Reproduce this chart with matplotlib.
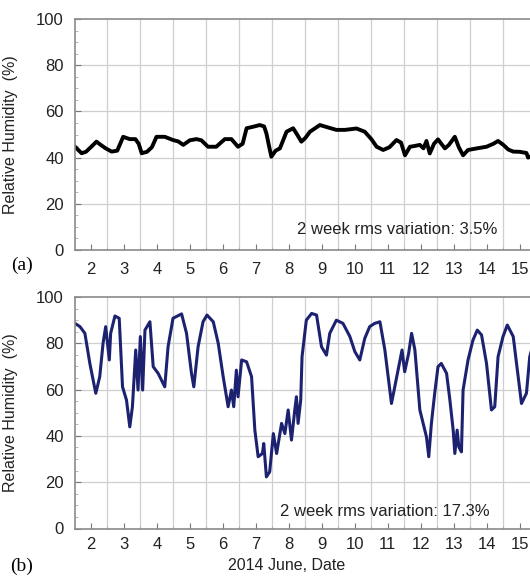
import numpy as np
import matplotlib
matplotlib.use("Agg")
import matplotlib.pyplot as plt
from matplotlib.ticker import MultipleLocator

plt.rcParams["font.family"] = ["Liberation Sans", "DejaVu Sans"]

# (a) relative humidity, first site (day of June 2014, %)
day_a = [1.52, 1.72, 1.85, 2.0, 2.17, 2.3, 2.45, 2.63, 2.8, 2.98, 3.18, 3.35,
         3.45, 3.54, 3.7, 3.85, 3.99, 4.24, 4.49, 4.65, 4.8, 5.0, 5.2, 5.35,
         5.55, 5.8, 6.06, 6.26, 6.46, 6.6, 6.72, 6.93, 7.12, 7.25, 7.32, 7.4,
         7.47, 7.6, 7.73, 7.93, 8.13, 8.25, 8.38, 8.5, 8.64, 8.94, 9.2, 9.44,
         9.7, 10.05, 10.3, 10.5, 10.66, 10.86, 11.05, 11.26, 11.4, 11.52,
         11.67, 11.8, 11.97, 12.08, 12.17, 12.27, 12.4, 12.52, 12.62, 12.73,
         12.85, 13.03, 13.15, 13.28, 13.43, 13.7, 13.99, 14.2, 14.34, 14.5,
         14.65, 14.8, 15.0, 15.2, 15.25, 15.4]
rh_a = [44.7, 41.9, 42.5, 44.5, 46.9, 45.5, 44.0, 42.6, 43.0, 49.0, 48.0, 48.0,
        46.0, 41.9, 42.5, 44.5, 49.0, 49.0, 47.6, 47.0, 45.5, 47.5, 48.0, 47.5,
        44.7, 44.7, 48.0, 48.0, 44.7, 46.0, 52.7, 53.4, 54.1, 53.5, 50.5, 45.0,
        40.4, 43.0, 44.0, 51.2, 52.7, 50.0, 46.9, 48.5, 51.2, 54.1, 53.0, 52.0,
        52.0, 52.6, 51.2, 48.0, 44.7, 43.3, 44.5, 47.6, 46.5, 41.0, 44.7, 45.0,
        45.5, 44.0, 47.2, 41.8, 46.0, 47.9, 46.0, 44.0, 45.5, 49.0, 44.5, 41.0,
        43.3, 44.0, 44.7, 46.0, 47.2, 45.5, 43.5, 42.6, 42.5, 42.0, 40.0, 41.0]

# (b) relative humidity, second site
day_b = [1.52, 1.67, 1.82, 1.97, 2.07, 2.15, 2.27, 2.37, 2.45, 2.56, 2.6, 2.73,
         2.86, 2.96, 3.08, 3.18, 3.26, 3.36, 3.43, 3.5, 3.57, 3.64, 3.79, 3.89,
         4.04, 4.24, 4.34, 4.49, 4.75, 4.9, 5.05, 5.12, 5.25, 5.4, 5.52, 5.71,
         5.86, 6.01, 6.16, 6.26, 6.33, 6.41, 6.46, 6.57, 6.72, 6.87, 6.97,
         7.07, 7.2, 7.24, 7.32, 7.42, 7.53, 7.63, 7.78, 7.88, 7.98, 8.08, 8.18,
         8.23, 8.28, 8.36, 8.4, 8.53, 8.69, 8.84, 8.99, 9.14, 9.24, 9.44, 9.64,
         9.85, 10.0, 10.15, 10.3, 10.45, 10.6, 10.76, 10.91, 11.11, 11.21,
         11.33, 11.43, 11.51, 11.63, 11.72, 11.82, 11.97, 12.07, 12.17, 12.24,
         12.32, 12.42, 12.52, 12.62, 12.78, 12.88, 12.98, 13.03, 13.1, 13.15,
         13.23, 13.28, 13.43, 13.58, 13.71, 13.84, 13.99, 14.14, 14.24, 14.34,
         14.49, 14.62, 14.8, 14.9, 15.05, 15.2, 15.3, 15.45]
rh_b = [88.6, 87.2, 84.3, 71.3, 64.1, 58.4, 65.6, 80.0, 87.2, 72.8, 84.3, 91.8,
        90.8, 61.2, 55.5, 43.9, 52.6, 77.1, 59.8, 82.9, 59.8, 85.7, 89.3, 69.9,
        67.0, 61.2, 78.5, 90.8, 92.7, 84.3, 67.0, 61.2, 78.5, 89.3, 92.2, 89.3,
        80.0, 65.6, 52.6, 59.8, 52.6, 68.4, 56.9, 72.8, 72.0, 65.6, 42.5,
        31.0, 32.4, 36.7, 22.3, 24.5, 41.0, 32.4, 45.4, 41.0, 51.2, 38.2, 51.2,
        56.9, 45.4, 55.5, 74.2, 90.0, 92.9, 92.2, 78.5, 74.9, 84.3, 90.0, 88.6,
        82.9, 76.4, 72.8, 82.1, 87.2, 88.6, 89.3, 77.1, 54.0, 61.2,
        69.9, 77.1, 67.7, 75.6, 84.3, 77.1, 51.2, 45.4, 39.6, 31.0,
        45.4, 58.4, 69.9, 71.3, 67.0, 55.5, 42.5, 32.4, 42.5, 35.3,
        33.1, 59.8, 72.8, 81.4, 85.7, 83.6, 71.3, 51.2, 52.6, 74.2,
        82.9, 87.9, 82.9, 71.3, 54.0, 58.4, 74.2, 82.0]

rms_a = 3.5
rms_b = 17.3

W, H = 530, 576
fig = plt.figure(figsize=(W / 100, H / 100), dpi=100)

X0, X1 = 1.52, 15.6
PX_DAY = 33.0
ax_w = (X1 - X0) * PX_DAY


def make_ax(top, bottom):
    return fig.add_axes([75 / W, 1 - bottom / H, ax_w / W, (bottom - top) / H])


def style(ax, xpad):
    ax.set_xlim(X0, X1)
    ax.set_ylim(0, 100)
    ax.xaxis.set_major_locator(MultipleLocator(1))
    ax.yaxis.set_major_locator(MultipleLocator(20))
    ax.yaxis.set_minor_locator(MultipleLocator(5))
    ax.set_xticks(np.arange(2.5, 16, 1), minor=True)
    for v in np.arange(2.5, 16, 1):
        ax.axvline(v, color="#cfcfcf", lw=0.9, zorder=0)
    for v in range(20, 100, 20):
        ax.axhline(v, color="#cfcfcf", lw=0.9, zorder=0)
    ax.tick_params(which="major", direction="in", length=4, width=0.8,
                   color="#777777", labelsize=12, labelcolor="#222222",
                   top=False, right=False)
    ax.tick_params(which="minor", direction="in", length=2, width=0.6,
                   color="#aaaaaa", top=False, right=False)
    ax.tick_params(axis="x", pad=xpad)
    ax.tick_params(axis="y", pad=8)
    for s in ax.spines.values():
        s.set_color("#8a8a8a")
        s.set_linewidth(1.2)
    ax.set_ylabel("Relative Humidity  (%)", fontsize=11.5, color="#222222")
    ax.yaxis.set_label_coords(-57 / ax_w, 0.5)


ax1 = make_ax(19, 250)
ax1.plot(day_a, rh_a, color="black", lw=2.8, solid_joinstyle="round")
style(ax1, 9)
ax1.text(11.27, 9, f"2 week rms variation: {rms_a}%", ha="center",
         va="center", fontsize=12, color="#222222")
fig.text(22 / W, 1 - 265 / H, "(a)", fontsize=14, family="Liberation Serif",
         ha="center", va="center")

ax2 = make_ax(297, 528.5)
ax2.plot(day_b, rh_b, color="#1c2270", lw=2.2, solid_joinstyle="round")
style(ax2, 6)
ax2.text(10.9, 7.5, f"2 week rms variation: {rms_b}%", ha="center",
         va="center", fontsize=12, color="#222222")
fig.text(22 / W, 1 - 566 / H, "(b)", fontsize=14, family="Liberation Serif",
         ha="center", va="center")
fig.text(287 / W, 1 - 566 / H, "2014 June, Date", fontsize=11.5,
         color="#222222", ha="center", va="center")

fig.savefig("out.png", dpi=100)
